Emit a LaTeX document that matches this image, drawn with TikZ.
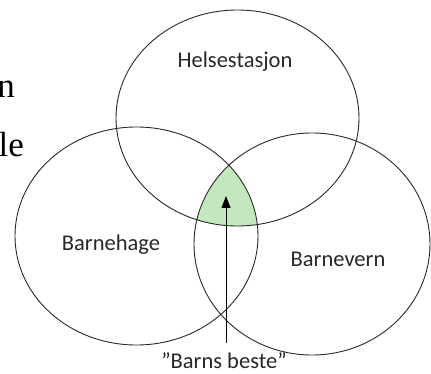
\documentclass[tikz,border=0pt]{standalone}
\usepackage{fontspec}
\setmainfont{Carlito}
\newfontfamily\serifcut{Liberation Serif}
\usetikzlibrary{arrows.meta}
\definecolor{ringcol}{RGB}{40,40,40}
\definecolor{bestgreen}{RGB}{196,232,190}
\tikzset{
  ring/.style={draw=ringcol, line width=0.9pt},
  lbl/.style={font=\fontsize{22.5}{26}\selectfont, text=ringcol, inner sep=0pt, anchor=base},
  cut/.style={font=\serifcut\fontsize{35}{40}\selectfont, inner sep=0pt, anchor=base east},
  pointer/.style={draw=black, line width=0.9pt, -{Triangle[width=9pt,length=12pt]}}
}
\begin{document}
\begin{tikzpicture}[x=1pt,y=-1pt]
\useasboundingbox (0,0) rectangle (431,374);
% green common area
\begin{scope}
  \clip (136.5,236) ellipse [x radius=121.5pt, y radius=109pt];
  \clip (312,244) ellipse [x radius=118pt, y radius=111pt];
  \fill[bestgreen] (237.5,118) ellipse [x radius=121.5pt, y radius=108pt];
\end{scope}
% circles
\draw[ring] (237.5,118) ellipse [x radius=121.5pt, y radius=108pt];
\draw[ring] (136.5,236) ellipse [x radius=121.5pt, y radius=109pt];
\draw[ring] (312,244) ellipse [x radius=118pt, y radius=111pt];
% labels
\node[lbl] (helse) at (235,68) {Helsestasjon};
\node[lbl] (hage) at (111,251) {Barnehage};
\node[lbl] (vern) at (338,266) {Barnevern};
\node[lbl] (beste) at (224,368) {”Barns beste”};
% cut-off text at the left
\node[cut] (cutn) at (15,98) {n};
\node[cut] (cutle) at (24,157) {le};
% arrow
\coordinate (tip) at (226,196);
\coordinate (tail) at (226,343);
\draw[pointer] (tail) -- (tip);
\end{tikzpicture}
\end{document}
